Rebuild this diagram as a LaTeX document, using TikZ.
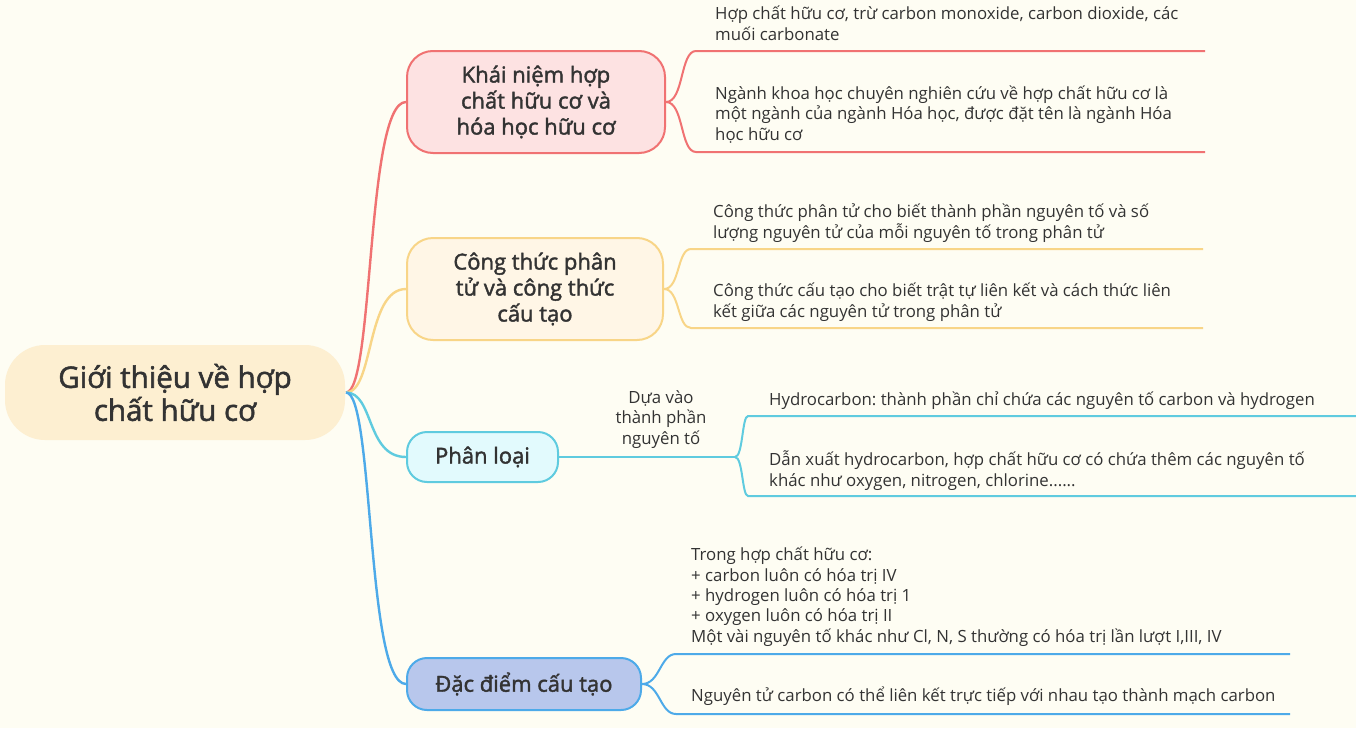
\documentclass[tikz,border=0pt]{standalone}
\usepackage{fontspec}
\setmainfont{Open Sans}
\newfontfamily\leaffont{Open Sans}
\newfontfamily\nodefont{Open Sans}[FakeBold=1.8]
\frenchspacing
\definecolor{bg}{HTML}{FEFDF3}
\definecolor{txt}{HTML}{333333}
\definecolor{cred}{HTML}{F07272}
\definecolor{fred}{HTML}{FDE2E2}
\definecolor{cyel}{HTML}{F8D587}
\definecolor{fyel}{HTML}{FFF6E6}
\definecolor{ccya}{HTML}{5FCBDF}
\definecolor{fcya}{HTML}{E2FAFD}
\definecolor{cblu}{HTML}{4DAAE9}
\definecolor{fblu}{HTML}{B8C7EC}
\definecolor{froot}{HTML}{FDEFD1}
\begin{document}
\begin{tikzpicture}[x=1pt,y=-1pt,
  mainnode/.style={rounded corners=26pt, line width=2pt, align=center, inner sep=0pt, text=txt,
    font=\nodefont\fontsize{22}{26}\selectfont},
  leaftext/.style={anchor=base west, align=left, inner sep=0pt, text=txt,
    font=\leaffont\fontsize{16.8}{20.3}\selectfont},
  conn/.style={line width=2.4pt},
  leafline/.style={line width=2pt, rounded corners=4pt}]
\useasboundingbox[fill=bg] (0,0) rectangle (1356,728);

% root
\node[mainnode, fill=froot, draw=none, rounded corners=40pt, minimum width=340pt, minimum height=95pt,
  font=\nodefont\fontsize{29.5}{33}\selectfont] (root) at (175,392.5) {Giới thiệu về hợp\\chất hữu cơ};

% main nodes
\node[mainnode, fill=fred, draw=cred, minimum width=258pt, minimum height=102pt] (n1) at (536,102)
  {Khái niệm hợp\\chất hữu cơ và\\hóa học hữu cơ};
\node[mainnode, fill=fyel, draw=cyel, minimum width=256pt, minimum height=102pt] (n2) at (535,289)
  {Công thức phân\\tử và công thức\\cấu tạo};
\node[mainnode, fill=fcya, draw=ccya, rounded corners=20pt, minimum width=151pt, minimum height=50pt] (n3) at (482.5,457)
  {Phân loại};
\node[mainnode, fill=fblu, draw=cblu, rounded corners=20pt, minimum width=234pt, minimum height=52pt] (n4) at (524,684)
  {Đặc điểm cấu tạo};

% connectors root -> main
\draw[conn, cred] (root.east) .. controls +(28,0) and +(-40,0) .. (n1.west);
\draw[conn, cyel] (root.east) .. controls +(28,0) and +(-40,0) .. (n2.west);
\draw[conn, ccya] (root.east) .. controls +(28,0) and +(-40,0) .. (n3.west);
\draw[conn, cblu] (root.east) .. controls +(28,0) and +(-40,0) .. (n4.west);

% leaf coordinates
\coordinate (a1s) at (700,51);  \coordinate (a1e) at (1205,51);
\coordinate (a2s) at (700,152); \coordinate (a2e) at (1205,152);
\coordinate (b1s) at (695,249); \coordinate (b1e) at (1203,249);
\coordinate (b2s) at (695,328); \coordinate (b2e) at (1203,328);
\coordinate (cj) at (735,457);
\coordinate (c1s) at (752,416); \coordinate (c1e) at (1356,416);
\coordinate (c2s) at (752,496); \coordinate (c2e) at (1356,496);
\coordinate (d1s) at (680,654); \coordinate (d1e) at (1290,654);
\coordinate (d2s) at (680,714); \coordinate (d2e) at (1290,714);

% leaf branches
\draw[leafline, cred] (n1.east) .. controls +(18,0) and +(-20,0) .. (a1s) -- (a1e);
\draw[leafline, cred] (n1.east) .. controls +(18,0) and +(-20,0) .. (a2s) -- (a2e);
\draw[leafline, cyel] (n2.east) .. controls +(16,0) and +(-18,0) .. (b1s) -- (b1e);
\draw[leafline, cyel] (n2.east) .. controls +(16,0) and +(-18,0) .. (b2s) -- (b2e);
\draw[leafline, ccya] (n3.east) -- (cj);
\draw[leafline, ccya] (cj) .. controls +(8,0) and +(-10,0) .. (c1s) -- (c1e);
\draw[leafline, ccya] (cj) .. controls +(8,0) and +(-10,0) .. (c2s) -- (c2e);
\draw[leafline, cblu] (n4.east) .. controls +(18,0) and +(-20,0) .. (d1s) -- (d1e);
\draw[leafline, cblu] (n4.east) .. controls +(18,0) and +(-20,0) .. (d2s) -- (d2e);

% leaf texts (anchored at the baseline of the last line)
\node[leaftext] (ta1) at (715,40) {Hợp chất hữu cơ, trừ carbon monoxide, carbon dioxide, các\\muối carbonate};
\node[leaftext] (ta2) at (715,140) {Ngành khoa học chuyên nghiên cứu về hợp chất hữu cơ là\\một ngành của ngành Hóa học, được đặt tên là ngành Hóa\\học hữu cơ};
\node[leaftext] (tb1) at (713,238) {Công thức phân tử cho biết thành phần nguyên tố và số\\lượng nguyên tử của mỗi nguyên tố trong phân tử};
\node[leaftext] (tb2) at (713,317) {Công thức cấu tạo cho biết trật tự liên kết và cách thức liên\\kết giữa các nguyên tử trong phân tử};
\node[leaftext, anchor=base, align=center] (tlab) at (661,444) {Dựa vào\\thành phần\\nguyên tố};
\node[leaftext] (tc1) at (769,405) {Hydrocarbon: thành phần chỉ chứa các nguyên tố carbon và hydrogen};
\node[leaftext] (tc2) at (769,486) {Dẫn xuất hydrocarbon, hợp chất hữu cơ có chứa thêm các nguyên tố\\khác như oxygen, nitrogen, chlorine......};
\node[leaftext] (td1) at (691,642) {Trong hợp chất hữu cơ:\\+ carbon luôn có hóa trị IV\\+ hydrogen luôn có hóa trị 1\\+ oxygen luôn có hóa trị II\\Một vài nguyên tố khác như Cl, N, S thường có hóa trị lần lượt I,III, IV};
\node[leaftext] (td2) at (691,701) {Nguyên tử carbon có thể liên kết trực tiếp với nhau tạo thành mạch carbon};
\end{tikzpicture}
\end{document}
